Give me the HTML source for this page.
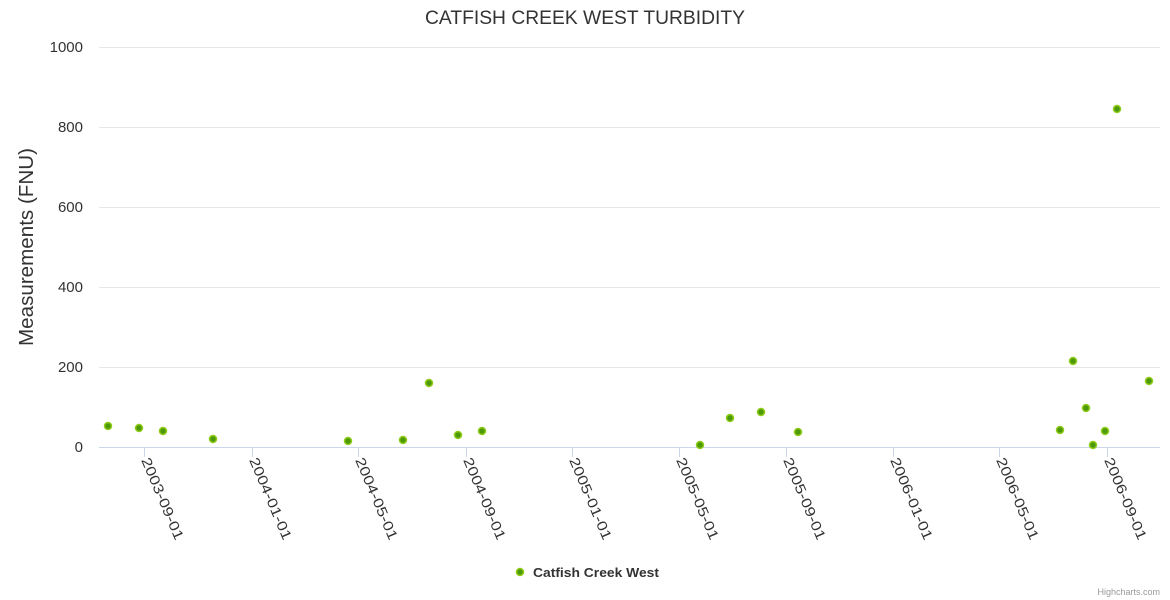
<!DOCTYPE html>
<html><head><style>
body{margin:0;background:#fff;}
svg{display:block;font-family:"Liberation Sans",sans-serif;}
</style></head><body>
<svg width="1170" height="600" viewBox="0 0 1170 600">
<text x="425" y="24" font-size="19" fill="#333" textLength="320" lengthAdjust="spacingAndGlyphs">CATFISH CREEK WEST TURBIDITY</text>
<g stroke="#e6e6e6" stroke-width="1">
<line x1="99" x2="1160" y1="47.5" y2="47.5"/>
<line x1="99" x2="1160" y1="127.5" y2="127.5"/>
<line x1="99" x2="1160" y1="207.5" y2="207.5"/>
<line x1="99" x2="1160" y1="287.5" y2="287.5"/>
<line x1="99" x2="1160" y1="367.5" y2="367.5"/>
</g>
<line x1="99" x2="1160" y1="447.5" y2="447.5" stroke="#ccd6eb"/>
<g font-size="15" fill="#333" text-anchor="end">
<text x="83" y="52">1000</text>
<text x="83" y="132">800</text>
<text x="83" y="212">600</text>
<text x="83" y="292">400</text>
<text x="83" y="372">200</text>
<text x="83" y="452">0</text>
</g>
<text transform="translate(33,346) rotate(-90)" font-size="20" fill="#333" textLength="198" lengthAdjust="spacingAndGlyphs">Measurements (FNU)</text>
<g stroke="#ccd6eb">
<line x1="144.5" x2="144.5" y1="447" y2="457"/>
<line x1="252.5" x2="252.5" y1="447" y2="457"/>
<line x1="358.5" x2="358.5" y1="447" y2="457"/>
<line x1="466.5" x2="466.5" y1="447" y2="457"/>
<line x1="572.5" x2="572.5" y1="447" y2="457"/>
<line x1="679.5" x2="679.5" y1="447" y2="457"/>
<line x1="786.5" x2="786.5" y1="447" y2="457"/>
<line x1="893.5" x2="893.5" y1="447" y2="457"/>
<line x1="999.5" x2="999.5" y1="447" y2="457"/>
<line x1="1107.5" x2="1107.5" y1="447" y2="457"/>
</g>
<g font-size="14" fill="#333">
<text transform="translate(141,460) rotate(67)" textLength="88" lengthAdjust="spacingAndGlyphs">2003-09-01</text>
<text transform="translate(249,460) rotate(67)" textLength="88" lengthAdjust="spacingAndGlyphs">2004-01-01</text>
<text transform="translate(355,460) rotate(67)" textLength="88" lengthAdjust="spacingAndGlyphs">2004-05-01</text>
<text transform="translate(463,460) rotate(67)" textLength="88" lengthAdjust="spacingAndGlyphs">2004-09-01</text>
<text transform="translate(569,460) rotate(67)" textLength="88" lengthAdjust="spacingAndGlyphs">2005-01-01</text>
<text transform="translate(676,460) rotate(67)" textLength="88" lengthAdjust="spacingAndGlyphs">2005-05-01</text>
<text transform="translate(783,460) rotate(67)" textLength="88" lengthAdjust="spacingAndGlyphs">2005-09-01</text>
<text transform="translate(890,460) rotate(67)" textLength="88" lengthAdjust="spacingAndGlyphs">2006-01-01</text>
<text transform="translate(996,460) rotate(67)" textLength="88" lengthAdjust="spacingAndGlyphs">2006-05-01</text>
<text transform="translate(1104,460) rotate(67)" textLength="88" lengthAdjust="spacingAndGlyphs">2006-09-01</text>
</g>
<g fill="#4e9a06" stroke="#8fcc1a" stroke-width="1.5">
<circle cx="108" cy="426" r="3.5"/><circle cx="139" cy="428" r="3.5"/><circle cx="163" cy="431" r="3.5"/>
<circle cx="213" cy="439" r="3.5"/><circle cx="348" cy="441" r="3.5"/><circle cx="403" cy="440" r="3.5"/>
<circle cx="429" cy="383" r="3.5"/><circle cx="458" cy="435" r="3.5"/><circle cx="482" cy="431" r="3.5"/>
<circle cx="700" cy="445" r="3.5"/><circle cx="730" cy="418" r="3.5"/><circle cx="761" cy="412" r="3.5"/>
<circle cx="798" cy="432" r="3.5"/><circle cx="1060" cy="430" r="3.5"/><circle cx="1073" cy="361" r="3.5"/>
<circle cx="1086" cy="408" r="3.5"/><circle cx="1093" cy="445" r="3.5"/><circle cx="1105" cy="431" r="3.5"/>
<circle cx="1117" cy="109" r="3.5"/><circle cx="1149" cy="381" r="3.5"/>
<circle cx="520" cy="572" r="3.5"/>
</g>
<text x="533" y="577" font-size="13" font-weight="bold" fill="#333" textLength="126" lengthAdjust="spacingAndGlyphs">Catfish Creek West</text>
<text x="1160" y="595" text-anchor="end" font-size="9" fill="#999">Highcharts.com</text>
</svg>
</body></html>
